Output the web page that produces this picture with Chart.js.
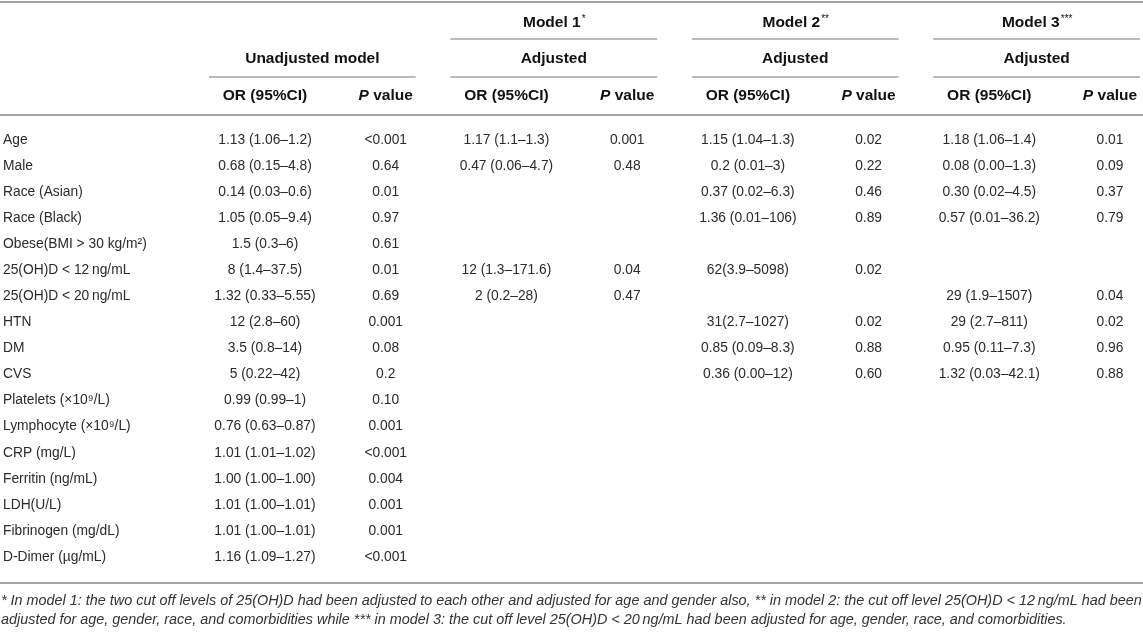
<!DOCTYPE html>
<html>
<head>
<meta charset="utf-8">
<script src="https://cdn.jsdelivr.net/npm/chart.js@4.4.1/dist/chart.umd.min.js"></script>
<style>
  html, body { margin: 0; padding: 0; background: #fff; }
</style>
</head>
<body>
<canvas id="myChart" width="1143" height="632"></canvas>
<script>
// Row labels of the table (y categories)
let rowLabels = ['Age', 'Male', 'Race (Asian)', 'Race (Black)', 'Obese(BMI > 30 kg/m²)',
  '25(OH)D < 12\u2009ng/mL', '25(OH)D < 20\u2009ng/mL', 'HTN', 'DM', 'CVS',
  'Platelets (\u00d710⁹/L)', 'Lymphocyte (\u00d710⁹/L)', 'CRP (mg/L)', 'Ferritin (ng/mL)',
  'LDH(U/L)', 'Fibrinogen (mg/dL)', 'D-Dimer (\u00b5g/mL)'];

// Cell values, one array per column
let unadjustedOR = ['1.13 (1.06–1.2)', '0.68 (0.15–4.8)', '0.14 (0.03–0.6)', '1.05 (0.05–9.4)', '1.5 (0.3–6)',
  '8 (1.4–37.5)', '1.32 (0.33–5.55)', '12 (2.8–60)', '3.5 (0.8–14)', '5 (0.22–42)', '0.99 (0.99–1)',
  '0.76 (0.63–0.87)', '1.01 (1.01–1.02)', '1.00 (1.00–1.00)', '1.01 (1.00–1.01)', '1.01 (1.00–1.01)', '1.16 (1.09–1.27)'];
let unadjustedP = ['<0.001', '0.64', '0.01', '0.97', '0.61', '0.01', '0.69', '0.001', '0.08', '0.2', '0.10',
  '0.001', '<0.001', '0.004', '0.001', '0.001', '<0.001'];
let model1OR = ['1.17 (1.1–1.3)', '0.47 (0.06–4.7)', null, null, null, '12 (1.3–171.6)', '2 (0.2–28)', null, null, null,
  null, null, null, null, null, null, null];
let model1P = ['0.001', '0.48', null, null, null, '0.04', '0.47', null, null, null,
  null, null, null, null, null, null, null];
let model2OR = ['1.15 (1.04–1.3)', '0.2 (0.01–3)', '0.37 (0.02–6.3)', '1.36 (0.01–106)', null, '62(3.9–5098)', null,
  '31(2.7–1027)', '0.85 (0.09–8.3)', '0.36 (0.00–12)', null, null, null, null, null, null, null];
let model2P = ['0.02', '0.22', '0.46', '0.89', null, '0.02', null, '0.02', '0.88', '0.60',
  null, null, null, null, null, null, null];
let model3OR = ['1.18 (1.06–1.4)', '0.08 (0.00–1.3)', '0.30 (0.02–4.5)', '0.57 (0.01–36.2)', null, null, '29 (1.9–1507)',
  '29 (2.7–811)', '0.95 (0.11–7.3)', '1.32 (0.03–42.1)', null, null, null, null, null, null, null];
let model3P = ['0.01', '0.09', '0.37', '0.79', null, null, '0.04', '0.02', '0.96', '0.88',
  null, null, null, null, null, null, null];

// Header texts
let groupTitles = ['', 'Model 1', 'Model 2', 'Model 3'];
let groupMarks = ['', '*', '**', '***'];
let groupSubtitles = ['Unadjusted model', 'Adjusted', 'Adjusted', 'Adjusted'];
let footnotes = [
  '* In model 1: the two cut off levels of 25(OH)D had been adjusted to each other and adjusted for age and gender also, ** in model 2: the cut off level 25(OH)D < 12\u2009ng/mL had been',
  'adjusted for age, gender, race, and comorbidities while *** in model 3: the cut off level 25(OH)D < 20\u2009ng/mL had been adjusted for age, gender, race, and comorbidities.'
];

let columns = [unadjustedOR, unadjustedP, model1OR, model1P, model2OR, model2P, model3OR, model3P];

const FONT = '"Liberation Sans", Arial, Helvetica, sans-serif';
const TEXT = '#2b2b2b';
const RULE = '#a3a3a3';

// Build one invisible scatter dataset per column, each point carries its text
let datasets = columns.map((col, c) => ({
  data: col.map((v, r) => v === null ? null : { x: c, y: rowLabels[r], t: v }).filter(p => p),
  pointRadius: 0,
  pointHoverRadius: 0,
  showLine: false
}));

function hline(ctx, x1, x2, y, w, color) {
  ctx.save();
  ctx.strokeStyle = color;
  ctx.lineWidth = w;
  ctx.beginPath();
  ctx.moveTo(x1, y);
  ctx.lineTo(x2, y);
  ctx.stroke();
  ctx.restore();
}

// Draws the cell texts at the points' positions
const cellText = {
  id: 'cellText',
  afterDatasetsDraw(chart) {
    const ctx = chart.ctx;
    ctx.save();
    ctx.font = '13.8px ' + FONT;
    ctx.fillStyle = TEXT;
    ctx.textAlign = 'center';
    ctx.textBaseline = 'middle';
    chart.data.datasets.forEach((ds, d) => {
      chart.getDatasetMeta(d).data.forEach((pt, i) => {
        ctx.fillText(ds.data[i].t, pt.x, pt.y);
      });
    });
    ctx.restore();
  }
};

// Draws rules, header rows and the footnote
const tableFrame = {
  id: 'tableFrame',
  afterDraw(chart) {
    const ctx = chart.ctx;
    const xs = chart.scales.x;
    const area = chart.chartArea;
    const W = chart.width;
    const top = area.top;

    hline(ctx, 0, W, top - 138, 2, RULE);
    hline(ctx, 0, W, top - 25, 2, RULE);
    hline(ctx, 0, W, area.bottom + 26, 2, RULE);

    ctx.save();
    ctx.fillStyle = '#111';
    ctx.textBaseline = 'middle';
    for (let g = 0; g < 4; g++) {
      const orX = xs.getPixelForValue(2 * g);
      const pX = xs.getPixelForValue(2 * g + 1);
      const left = orX - 56, right = pX + 30;
      const mid = (left + right) / 2;

      if (groupTitles[g]) {
        ctx.font = 'bold 15.5px ' + FONT;
        const tw = ctx.measureText(groupTitles[g]).width;
        ctx.font = '10px ' + FONT;
        const mw = ctx.measureText(groupMarks[g]).width;
        const sx = mid - (tw + mw) / 2;
        ctx.font = 'bold 15.5px ' + FONT;
        ctx.textAlign = 'left';
        ctx.fillText(groupTitles[g], sx, top - 117);
        ctx.font = '10px ' + FONT;
        ctx.fillText(groupMarks[g], sx + tw + 1, top - 121);
        hline(ctx, left, right, top - 101, 1.5, RULE);
      }

      ctx.font = 'bold 15.5px ' + FONT;
      ctx.textAlign = 'center';
      ctx.fillText(groupSubtitles[g], mid, top - 81);
      hline(ctx, left, right, top - 63, 1.5, RULE);

      ctx.fillText('OR (95%CI)', orX, top - 44);
      ctx.font = 'bold italic 15.5px ' + FONT;
      const pw = ctx.measureText('P').width;
      ctx.font = 'bold 15.5px ' + FONT;
      const vw = ctx.measureText(' value').width;
      const px0 = pX - (pw + vw) / 2;
      ctx.textAlign = 'left';
      ctx.font = 'bold italic 15.5px ' + FONT;
      ctx.fillText('P', px0, top - 44);
      ctx.font = 'bold 15.5px ' + FONT;
      ctx.fillText(' value', px0 + pw, top - 44);
    }

    ctx.font = 'italic 14.4px ' + FONT;
    ctx.fillStyle = '#333';
    ctx.textAlign = 'left';
    footnotes.forEach((line, i) => {
      ctx.fillText(line, 1, area.bottom + 44 + i * 19);
    });
    ctx.restore();
  }
};

let myChart = document.getElementById('myChart').getContext('2d');

const config = {
  type: 'scatter',
  data: { datasets: datasets },
  options: {
    responsive: false,
    animation: false,
    devicePixelRatio: 1,
    layout: { padding: { left: 3, top: 140, right: 33, bottom: 75 } },
    plugins: {
      legend: { display: false },
      tooltip: { enabled: false }
    },
    events: [],
    scales: {
      x: {
        type: 'linear',
        min: 0,
        max: 7,
        display: false
      },
      y: {
        type: 'category',
        labels: rowLabels,
        offset: false,
        grid: { display: false },
        border: { display: false },
        ticks: {
          autoSkip: false,
          crossAlign: 'far',
          padding: 0,
          color: TEXT,
          font: { family: FONT, size: 13.8 }
        },
        afterFit(scale) { scale.width = 262; }
      }
    }
  },
  plugins: [cellText, tableFrame]
};

const theChart = new Chart(myChart, config);
</script>
</body>
</html>
